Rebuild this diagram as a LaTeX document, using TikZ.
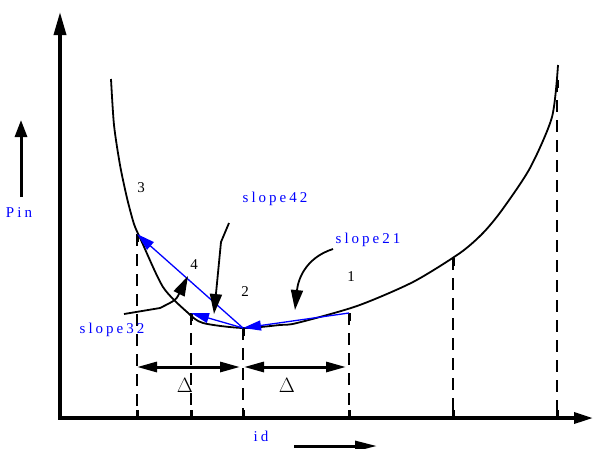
\documentclass[tikz,border=0pt]{standalone}
\usepackage{fontspec}
\setmainfont{Liberation Serif}
\usetikzlibrary{arrows.meta}

\begin{document}
\begin{tikzpicture}[x=1pt, y=-1pt,
  axis/.style={line width=3.5pt, {Triangle[length=23pt,width=12pt]}-{Triangle[length=19pt,width=11pt]}},
  curve/.style={line width=1.8pt, line join=round},
  guide/.style={line width=2.4pt, dash pattern=on 12pt off 8pt},
  tick/.style={line width=3pt},
  slopearr/.style={blue, line width=1.3pt, -{Triangle[length=18pt,width=10pt]}},
  callout/.style={line width=1.8pt, -{Triangle[length=20pt,width=12pt]}},
  delta/.style={line width=3pt, {Triangle[length=20pt,width=10pt]}-{Triangle[length=20pt,width=10pt]}},
  lbl/.style={inner sep=0pt, font=\fontsize{15}{17}\selectfont},
  bluelbl/.style={inner sep=0pt, blue, font=\fontsize{15}{17}\selectfont\addfontfeature{LetterSpace=20}}
]
  \useasboundingbox (0,0) rectangle (594,448);

  % axes
  \coordinate (ytip) at (60,12);
  \coordinate (origin) at (60,418);
  \coordinate (xtip) at (593,418);
  \draw[axis] (ytip) -- (origin) -- (xtip);

  % dashed guides with ticks
  \foreach \name/\xx/\yy in {g3/137/234, g4/191/313, g2/243/328, g1/349/313, g5/453/258, g6/557/80} {
    \coordinate (\name) at (\xx,\yy);
    \draw[guide] (\xx,\yy) -- (\xx,418);
    \draw[tick] (\xx,\yy) -- ++(0,8);
    \draw[tick] (\xx,410) -- (\xx,418);
  }

  % the curve
  \draw[curve] plot[smooth, tension=0.45] coordinates {
    (111,79) (114,125) (120,165) (127,198) (134,224) (141,240) (163,287) (187,312)
    (203,323) (243,328) (280,325) (297,323) (357,306) (413,282) (460,253)
    (483,233) (502,210) (530,168) (552,117) (558,65)};

  % slopes
  \draw[slopearr] (g2) -- (g3);
  \draw[slopearr] (g2) -- (g4);
  \draw[slopearr] (g1) -- (g2);

  % labels
  \node[lbl] (n3) at (141,188) {3};
  \node[lbl] (n4) at (194,265) {4};
  \node[lbl] (n2) at (245,292) {2};
  \node[lbl] (n1) at (351,277) {1};
  \node[bluelbl] (s42) at (275,199) {slope42};
  \node[bluelbl] (s21) at (368,240) {slope21};
  \node[bluelbl] (s32) at (112,330) {slope32};
  \node[bluelbl] (pin) at (19,213) {Pin};
  \node[bluelbl] (idl) at (261,436) {id};

  % callouts
  \coordinate (c42) at (229,223);
  \coordinate (c42tip) at (214,314);
  \draw[callout] (c42) -- (221,242) -- (c42tip);
  \coordinate (c21) at (333,249);
  \coordinate (c21tip) at (295,310);
  \draw[callout] (c21) .. controls (305,258) and (298,280) .. (c21tip);
  \coordinate (c32) at (124,314);
  \coordinate (c32tip) at (188,276);
  \draw[callout] (c32) -- (160,308) .. controls (176,300) .. (c32tip);

  % delta spans
  \coordinate (dl) at (137,367);
  \coordinate (dm) at (240,367);
  \coordinate (dm2) at (244,367);
  \coordinate (dr) at (346,367);
  \draw[delta] (dl) -- (dm);
  \draw[delta] (dm2) -- (dr);
  \node[font=\fontsize{21}{23}\selectfont] (del1) at (185,385) {$\Delta$};
  \node[font=\fontsize{21}{23}\selectfont] (del2) at (287,385) {$\Delta$};

  % direction arrows
  \coordinate (pinbase) at (21,197);
  \coordinate (pintip) at (21,120);
  \draw[line width=3pt, -{Triangle[length=17pt,width=12pt]}] (pinbase) -- (pintip);
  \coordinate (idbase) at (294,446);
  \coordinate (idtip) at (377,446);
  \draw[line width=3pt, -{Triangle[length=22pt,width=10pt]}] (idbase) -- (idtip);
\end{tikzpicture}
\end{document}
